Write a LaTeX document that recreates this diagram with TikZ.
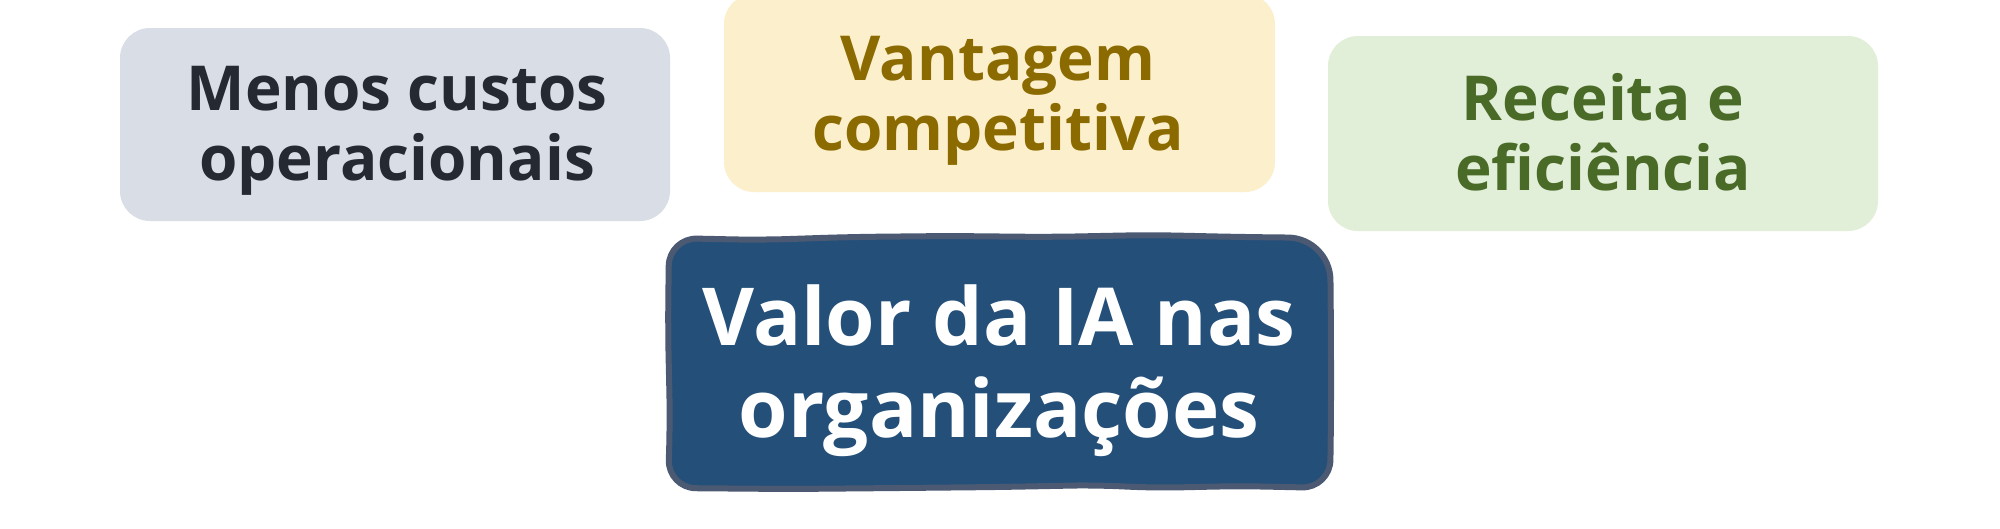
\documentclass[tikz,border=0pt]{standalone}
\usepackage{fontspec}
\setmainfont{Open Sans}
\definecolor{grayfill}{HTML}{D8DDE6}
\definecolor{graytext}{HTML}{252932}
\definecolor{yelfill}{HTML}{FCEFCB}
\definecolor{yeltext}{HTML}{8B6A00}
\definecolor{grnfill}{HTML}{E1EED8}
\definecolor{grntext}{HTML}{4A6A28}
\definecolor{bluefill}{HTML}{234F79}
\definecolor{blueline}{HTML}{4B5A72}
\tikzset{
  card/.style={rounded corners=30pt},
  smalltext/.style={inner sep=0pt, align=center, font=\bfseries\fontsize{62}{70}\selectfont},
  bigtext/.style={inner sep=0pt, align=center, text=white, font=\bfseries\fontsize{80}{92}\selectfont}
}
\begin{document}
\begin{tikzpicture}[x=1pt,y=-1pt]
\useasboundingbox (0,0) rectangle (2000,528);
\fill[white] (0,0) rectangle (2000,528);
% cards
\fill[card, grayfill] (120,28) rectangle (670,221);
\fill[card, yelfill] (724,-6) rectangle (1275,192);
\fill[card, grnfill] (1328,36) rectangle (1878,231);
% central wobbly box
\filldraw[fill=bluefill, draw=blueline, line width=6pt, rounded corners=28pt, line join=round]
  (668,330) -- (669,238) -- (760,240) -- (850,237) -- (950,236) -- (1050,237) -- (1150,235)
  -- (1240,237) [rounded corners=42pt] -- (1330,238) -- (1331,330) [rounded corners=28pt] -- (1331,420) -- (1330,488)
  -- (1240,486) -- (1150,488) -- (1100,485) -- (1000,487) -- (900,488) -- (790,489)
  -- (668,488) -- (670,420) -- cycle;
% texts
\node[smalltext, text=graytext] (costs) at (397,131.7) {\strut Menos custos\\\strut operacionais};
\node[smalltext, text=yeltext] (adv) at (998,101) {\strut Vantagem\\\strut competitiva};
\node[smalltext, text=grntext] (rev) at (1603,141) {\strut Receita e\\\strut eficiência};
\node[bigtext] (value) at (999,372.6) {\strut Valor da IA nas\\\strut organizações};
\end{tikzpicture}
\end{document}
